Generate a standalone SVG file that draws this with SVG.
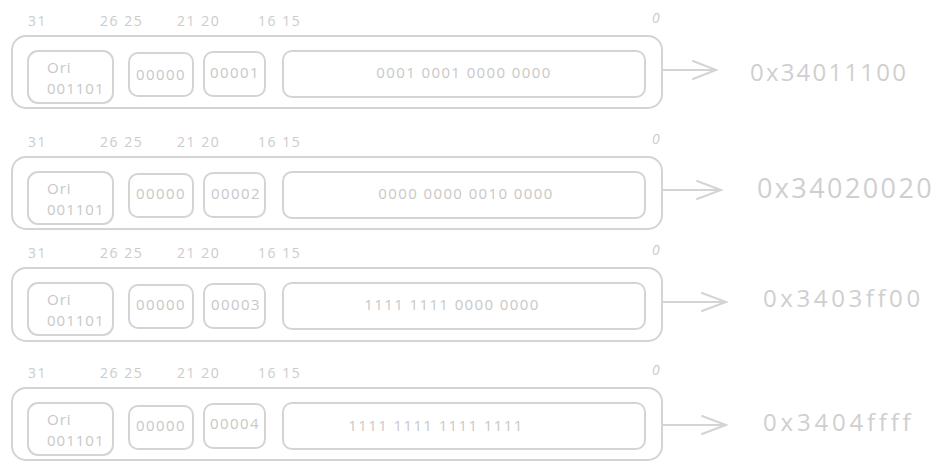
<svg xmlns="http://www.w3.org/2000/svg" width="949" height="471" viewBox="0 0 949 471">
<defs>
<style>
.box{fill:none;stroke:#d4d4d4;stroke-width:2}
.lbl{font-family:"Open Sans","Liberation Sans",sans-serif;font-size:14px;fill:#cccccc;letter-spacing:1.5px}
.in{font-family:"Open Sans","Liberation Sans",sans-serif;font-size:15px;fill:#c8c8c8;text-anchor:middle;letter-spacing:1.4px}
.ori{font-family:"Open Sans","Liberation Sans",sans-serif;font-size:15px;fill:#c8c8c8;letter-spacing:1px}
.hex{font-family:"Open Sans","Liberation Sans",sans-serif;font-size:24px;fill:#cfcfcf;letter-spacing:2.2px}
.con{fill:none;stroke:#d4d4d4;stroke-width:2;stroke-linecap:round}
</style>
</defs>
<rect width="949" height="471" fill="#ffffff"/>

<g id="row1" transform="translate(0,0)">
<text class="lbl" x="28" y="26">31</text>
<text class="lbl" x="100" y="26">26 25</text>
<text class="lbl" x="177" y="26">21 20</text>
<text class="lbl" x="258" y="26">16 15</text>
<text class="lbl" x="652" y="23" font-style="italic">0</text>
<rect class="box" x="12" y="36" width="650" height="72" rx="14"/>
<rect class="box" x="28" y="51" width="85" height="52" rx="10"/>
<text class="ori" x="47" y="73">Ori</text>
<text class="ori" x="47" y="94">001101</text>
<rect class="box" x="129" y="53" width="64" height="43" rx="9"/>
<text class="in" x="161" y="80">00000</text>
<rect class="box" x="204" y="52" width="61" height="44" rx="9"/>
<text class="in" x="235" y="78">00001</text>
<rect class="box" x="283" y="51" width="362" height="46" rx="9"/>
<text class="in" x="464" y="78">0001 0001 0000 0000</text>
</g>

<g id="row2" transform="translate(0,121)">
<text class="lbl" x="28" y="26">31</text>
<text class="lbl" x="100" y="26">26 25</text>
<text class="lbl" x="177" y="26">21 20</text>
<text class="lbl" x="258" y="26">16 15</text>
<text class="lbl" x="652" y="23" font-style="italic">0</text>
<rect class="box" x="12" y="36" width="650" height="72" rx="14"/>
<rect class="box" x="28" y="51" width="85" height="52" rx="10"/>
<text class="ori" x="47" y="73">Ori</text>
<text class="ori" x="47" y="94">001101</text>
<rect class="box" x="129" y="53" width="64" height="43" rx="9"/>
<text class="in" x="161" y="78">00000</text>
<rect class="box" x="204" y="52" width="61" height="44" rx="9"/>
<text class="in" x="236" y="78">00002</text>
<rect class="box" x="283" y="51" width="362" height="46" rx="9"/>
<text class="in" x="466" y="78">0000 0000 0010 0000</text>
</g>

<g id="row3" transform="translate(0,232)">
<text class="lbl" x="28" y="26">31</text>
<text class="lbl" x="100" y="26">26 25</text>
<text class="lbl" x="177" y="26">21 20</text>
<text class="lbl" x="258" y="26">16 15</text>
<text class="lbl" x="652" y="23" font-style="italic">0</text>
<rect class="box" x="12" y="36" width="650" height="73" rx="14"/>
<rect class="box" x="28" y="51" width="85" height="52" rx="10"/>
<text class="ori" x="47" y="73">Ori</text>
<text class="ori" x="47" y="94">001101</text>
<rect class="box" x="129" y="53" width="64" height="43" rx="9"/>
<text class="in" x="161" y="78">00000</text>
<rect class="box" x="204" y="52" width="61" height="44" rx="9"/>
<text class="in" x="236" y="78">00003</text>
<rect class="box" x="283" y="51" width="362" height="46" rx="9"/>
<text class="in" x="452" y="78">1111 1111 0000 0000</text>
</g>

<g id="row4" transform="translate(0,352)">
<text class="lbl" x="28" y="26">31</text>
<text class="lbl" x="100" y="26">26 25</text>
<text class="lbl" x="177" y="26">21 20</text>
<text class="lbl" x="258" y="26">16 15</text>
<text class="lbl" x="652" y="23" font-style="italic">0</text>
<rect class="box" x="12" y="36" width="650" height="72" rx="14"/>
<rect class="box" x="28" y="51" width="85" height="52" rx="10"/>
<text class="ori" x="47" y="73">Ori</text>
<text class="ori" x="47" y="94">001101</text>
<rect class="box" x="129" y="54" width="64" height="43" rx="9"/>
<text class="in" x="161" y="79">00000</text>
<rect class="box" x="204" y="52" width="61" height="44" rx="9"/>
<text class="in" x="235" y="77">00004</text>
<rect class="box" x="283" y="51" width="362" height="46" rx="9"/>
<text class="in" x="436" y="79">1111 1111 1111 1111</text>
</g>

<g id="connectors">
<path class="con" d="M663 70 L716 70 M693 61 L716 70 L693 79"/>
<path class="con" d="M663 190 L721 190 M697 181 L721 190 L697 199"/>
<path class="con" d="M663 302 L726 302 M702 293 L726 302 L702 311"/>
<path class="con" d="M663 425 L726 425 M702 416 L726 425 L702 434"/>
</g>

<g id="labels">
<text class="hex" x="750" y="81">0x34011100</text>
<text class="hex" x="757" y="198" style="font-size:27px;letter-spacing:2.4px">0x34020020</text>
<text class="hex" x="763" y="307" style="letter-spacing:3.6px">0x3403ff00</text>
<text class="hex" x="763" y="431" style="letter-spacing:3.8px">0x3404ffff</text>
</g>
</svg>
